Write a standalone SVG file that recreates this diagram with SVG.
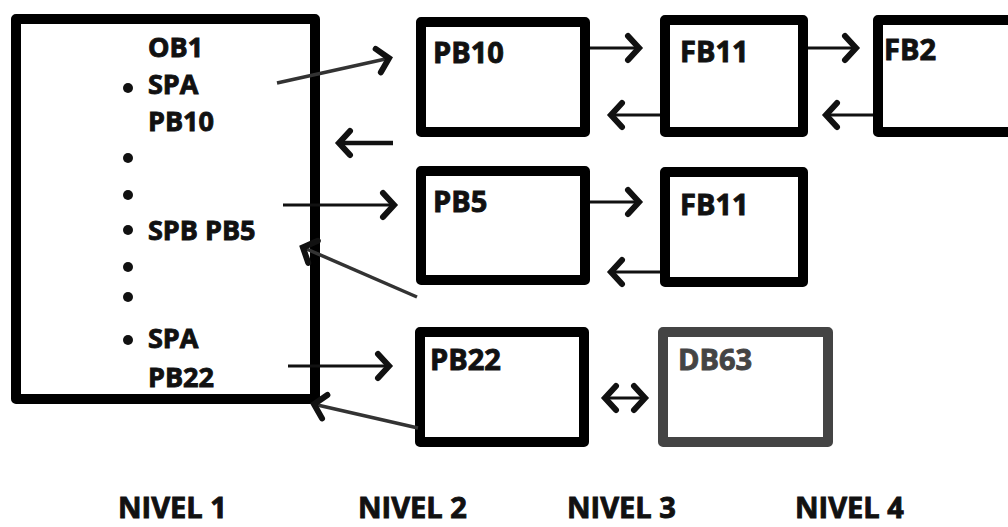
<svg xmlns="http://www.w3.org/2000/svg" width="1008" height="527" viewBox="0 0 1008 527">
<style>
.box{fill:#fff;stroke:#000;stroke-width:10;stroke-linejoin:round}
.gbox{fill:#fff;stroke:#444;stroke-width:10;stroke-linejoin:round}
.t{font-family:"Open Sans","DejaVu Sans",sans-serif;font-weight:bold;fill:#111;stroke:#111;stroke-width:0.9}
.mt{font-size:27px}
.bt{font-size:29px}
.gt{fill:#444;stroke:#444}
.lv{font-size:29px}
.c{stroke:#111;stroke-width:3;fill:none;marker-end:url(#ah)}
.cg{stroke:#333;stroke-width:3.5;fill:none;marker-end:url(#ah)}
</style>
<defs>
<marker id="ah" markerUnits="userSpaceOnUse" markerWidth="30" markerHeight="34" viewBox="-20 -17 30 34" refX="0" refY="0" orient="auto-start-reverse">
<path d="M-12,-12 L-1,0 L-12,12" fill="none" stroke="#111" stroke-width="6" stroke-linejoin="miter" stroke-linecap="round"/>
</marker>
</defs>
<rect width="1008" height="527" fill="#fff"/>
<g id="nivel1">
<rect class="box" x="16" y="19" width="299" height="380"/>
<text class="t mt" x="148" y="57">OB1</text>
<text class="t mt" x="148" y="94">SPA</text>
<text class="t mt" x="148" y="131">PB10</text>
<text class="t mt" x="148" y="240">SPB PB5</text>
<text class="t mt" x="148" y="348">SPA</text>
<text class="t mt" x="148" y="387">PB22</text>
<g fill="#111">
<circle cx="128" cy="88" r="5"/>
<circle cx="128" cy="158" r="5"/>
<circle cx="128" cy="195" r="5"/>
<circle cx="128" cy="230" r="5"/>
<circle cx="128" cy="267" r="5"/>
<circle cx="128" cy="297" r="5"/>
<circle cx="128" cy="340" r="5"/>
</g>
</g>
<g id="pb10"><rect class="box" x="421" y="22" width="164" height="110"/><text class="t bt" x="433" y="63">PB10</text></g>
<g id="fb11a"><rect class="box" x="665" y="20" width="138" height="112"/><text class="t bt" x="680" y="62">FB11</text></g>
<g id="fb2"><rect class="box" x="878" y="20" width="200" height="112"/><text class="t bt" x="884" y="60">FB2</text></g>
<g id="pb5"><rect class="box" x="421" y="171" width="164" height="109"/><text class="t bt" x="433" y="212">PB5</text></g>
<g id="fb11b"><rect class="box" x="665" y="172" width="138" height="110"/><text class="t bt" x="680" y="215">FB11</text></g>
<g id="pb22"><rect class="box" x="420" y="332" width="164" height="110"/><text class="t bt" x="430" y="370">PB22</text></g>
<g id="db63"><rect class="gbox" x="663" y="332" width="165" height="110"/><text class="t bt gt" x="678" y="370">DB63</text></g>
<g id="connectors">
<line class="cg" x1="277" y1="83" x2="390" y2="58"/>
<line class="c" x1="590" y1="48" x2="640" y2="48"/>
<line class="c" x1="808" y1="48" x2="857" y2="48"/>
<line class="c" x1="660" y1="115" x2="610" y2="115"/>
<line class="c" x1="873" y1="115" x2="825" y2="115"/>
<line class="c" style="stroke-width:4.5" x1="393" y1="143" x2="338" y2="143"/>
<line class="c" x1="283" y1="205" x2="395" y2="205"/>
<line class="c" x1="590" y1="202" x2="640" y2="202"/>
<line class="c" x1="660" y1="272" x2="610" y2="272"/>
<line class="cg" x1="417" y1="297" x2="302" y2="247"/>
<line class="c" x1="288" y1="366" x2="390" y2="366"/>
<line class="cg" x1="418" y1="428" x2="313" y2="404"/>
<line class="c" style="marker-start:url(#ah)" x1="604" y1="398" x2="646" y2="398"/>
</g>
<g id="labels">
<text class="t lv" x="118" y="518">NIVEL 1</text>
<text class="t lv" x="358" y="518">NIVEL 2</text>
<text class="t lv" x="567" y="518">NIVEL 3</text>
<text class="t lv" x="795" y="518">NIVEL 4</text>
</g>
</svg>
